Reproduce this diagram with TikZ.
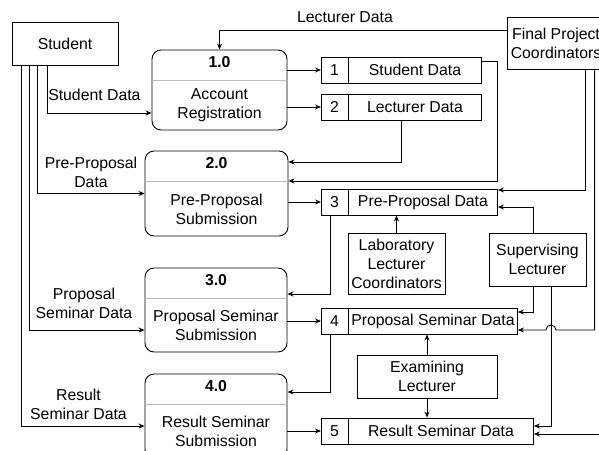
\documentclass[tikz,border=0pt]{standalone}
\usepackage{fontspec}
\setmainfont{Liberation Sans}
\usetikzlibrary{positioning,arrows.meta,calc}
\newcommand{\dfdfont}{\fontsize{15.8}{19}\selectfont}
\newcommand{\procbox}[6]{%
    \node[proc,minimum width=#3pt,minimum height=#4pt] (#1) at (#2) {};
    \draw[procsep] ([yshift=-31pt]#1.north west)--([yshift=-31pt]#1.north east);
    \node[font=\dfdfont\bfseries] (#1num) at ([yshift=-13pt]#1.north) {#5};
    \node[align=center] (#1txt) at ($([yshift=-31pt]#1.north)!0.5!(#1.south)$) {#6};
}
\newcommand{\datastore}[6]{%
    \node[store,minimum width=#4pt,anchor=west] (#1) at (#2,#3) {};
    \draw ([xshift=27pt]#1.north west)--([xshift=27pt]#1.south west);
    \node (#1num) at ([xshift=13.5pt]#1.west) {#5};
    \node (#1txt) at ($([xshift=27pt]#1.west)!0.5!(#1.east)$) {#6};
}

\begin{document}
\begin{tikzpicture}[x=1pt,y=-1pt,line width=0.9pt,font=\dfdfont,
    proc/.style={draw,rounded corners=9pt,inner sep=0pt},
    procsep/.style={draw=gray!55,line width=0.8pt},
    store/.style={draw,minimum height=26pt,inner sep=0pt},
    ext/.style={draw,align=center,inner sep=0pt},
    flow/.style={-{Stealth[length=6pt,width=5pt]}}]
    \useasboundingbox (0,0) rectangle (599,450);
    \fill[white] (0,0) rectangle (599,450);
    % external entities
    \node[ext,minimum width=106pt,minimum height=43pt] (student) at (65,43.5) {Student};
    \node[ext,minimum width=98pt,minimum height=52pt] (fpc) at (556,43) {Final Project\\Coordinators};
    \node[ext,minimum width=97pt,minimum height=61pt] (lab) at (396.5,263.5) {Laboratory\\Lecturer\\Coordinators};
    \node[ext,minimum width=97pt,minimum height=53pt] (sup) at (537.5,259.5) {Supervising\\Lecturer};
    \node[ext,minimum width=140pt,minimum height=43pt] (exam) at (427,376.5) {Examining\\Lecturer};
    % processes
    \procbox{p1}{219.5,90}{135}{80}{1.0}{Account\\Registration}
    \procbox{p2}{216.5,193.5}{143}{85}{2.0}{Pre-Proposal\\Submission}
    \procbox{p3}{216,310}{142}{84}{3.0}{Proposal Seminar\\Submission}
    \procbox{p4}{216,416}{142}{84}{4.0}{Result Seminar\\Submission}
    % data stores
    \datastore{s1}{321}{70}{160}{1}{Student Data}
    \datastore{s2}{321}{107}{160}{2}{Lecturer Data}
    \datastore{s3}{321}{202}{176}{3}{Pre-Proposal Data}
    \datastore{s4}{321}{321}{196}{4}{Proposal Seminar Data}
    \datastore{s5}{321}{431}{212}{5}{Result Seminar Data}
    % student flows
    \draw[flow] ([xshift=36pt]student.south west) |- ([yshift=-23pt]p1.west);
    \draw[flow] ([xshift=26pt]student.south west) |- (p2.west);
    \draw[flow] ([xshift=18pt]student.south west) |- ([yshift=-20pt]p3.west);
    \draw[flow] ([xshift=10pt]student.south west) |- ([yshift=-10pt]p4.west);
    \node[anchor=west] (lsd) at (44.5,95) {Student Data};
    \node[align=center] (lppd) at (91,172) {Pre-Proposal\\Data};
    \node[align=center] (lpsd) at (84,303) {Proposal\\Seminar Data};
    \node[align=center] (lrsd) at (78.5,404.5) {Result\\Seminar Data};
    \node (lld) at (345,17) {Lecturer Data};
    \draw[flow] ([yshift=13pt]fpc.west) -| (p1.north);
    % process and store flows
    \draw[flow] (p1.east |- s1.west) -- (s1.west);
    \draw[flow] (p1.east |- s2.west) -- (s2.west);
    \draw[flow] ([yshift=9pt]s1.east) -- ++(16,0) |- ([yshift=12.5pt]p2.east);
    \draw[flow] (s2.south) |- ([yshift=31.5pt]p2.east);
    \draw[flow] (p2.east |- s3.west) -- (s3.west);
    \draw[flow] ([xshift=79pt]fpc.south west) |- ([yshift=12pt]s3.east);
    \draw[flow] (lab.north) -- (lab.north |- s3.south);
    \draw[flow] ([xshift=-4.5pt]sup.north) |- ([yshift=-5pt]s3.east);
    \draw[flow] ([xshift=9pt]s3.south west) |- ([yshift=16pt]p3.east);
    \draw[flow] (p3.east |- s4.west) -- (s4.west);
    \draw[flow] ([xshift=-4.5pt]sup.south) |- ([yshift=9pt]s4.east);
    \draw[flow] ([xshift=13.5pt]sup.south) |- ([yshift=5pt]s5.east);
    \coordinate (hop) at ($(sup.south |- s4.east)+(18.5,9)$);
    \draw[flow] ([xshift=88pt]fpc.south west) |- (hop)
        arc[start angle=0,end angle=180,radius=5pt] -- ([yshift=-9pt]s4.east);
    \draw[flow] ([xshift=96pt]fpc.south west) |- ([yshift=-3pt]s5.east);
    \draw[flow] ([xshift=9pt]s4.south west) |- ([yshift=24pt]p4.east);
    \draw[flow] (p4.east |- s5.west) -- (s5.west);
    \draw[flow] (exam.north) -- (exam.north |- s4.south);
    \draw[flow] (exam.south) -- (exam.south |- s5.north);
\end{tikzpicture}
\end{document}
